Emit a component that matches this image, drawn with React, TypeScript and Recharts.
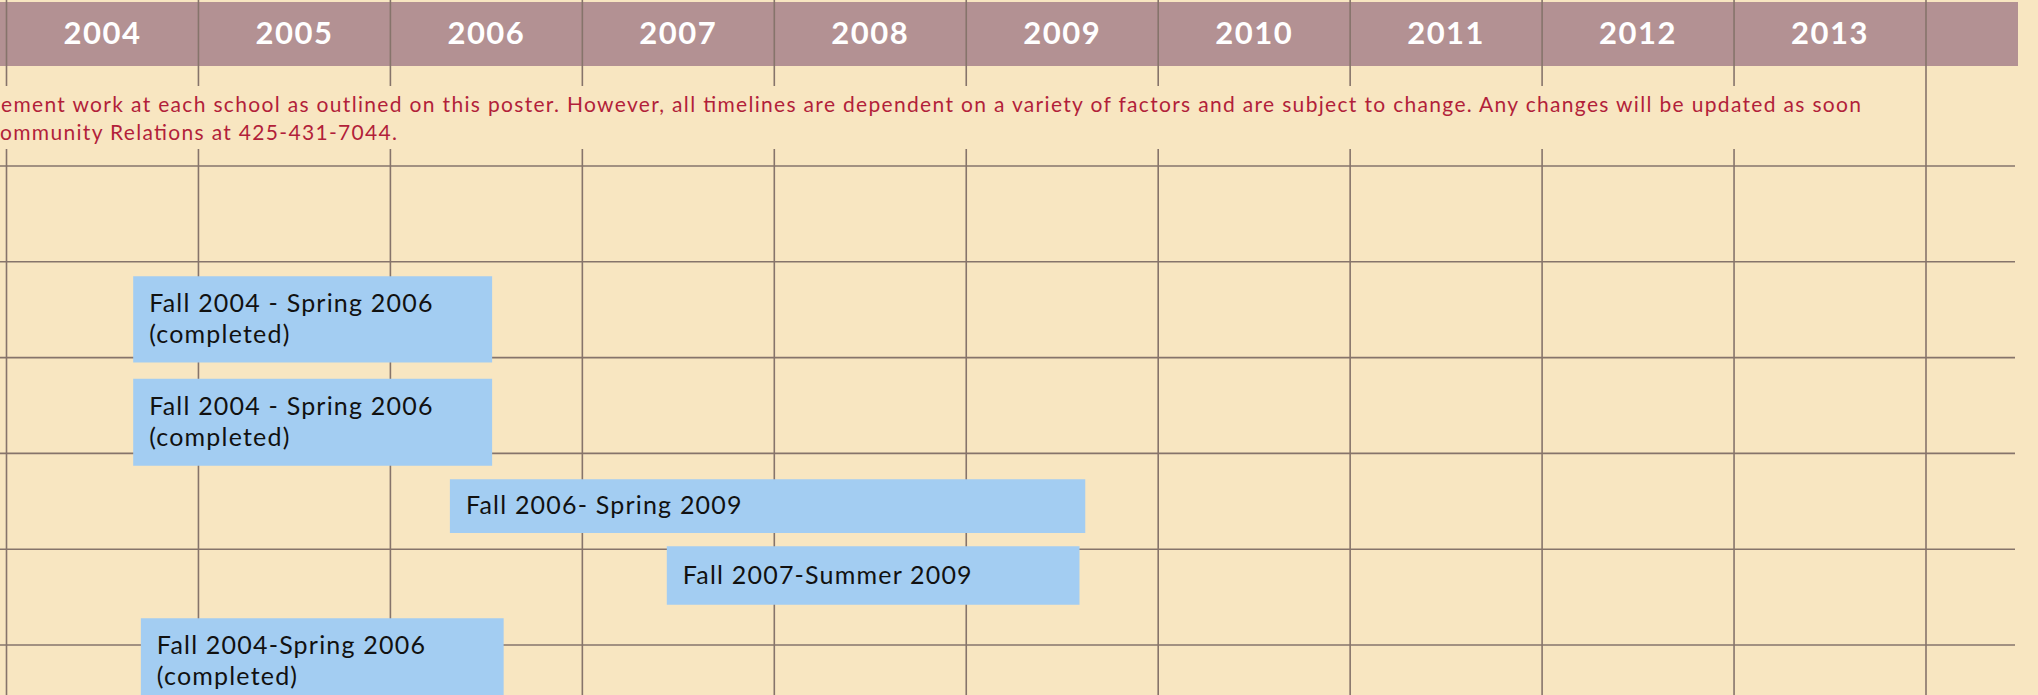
import React from 'react';
import { ScatterChart, XAxis, YAxis, CartesianGrid, ReferenceArea } from 'recharts';

// column boundaries (years) and school row lines
const yearTicks = [2004, 2005, 2006, 2007, 2008, 2009, 2010, 2011, 2012, 2013, 2014];
const yearLabels = [2004, 2005, 2006, 2007, 2008, 2009, 2010, 2011, 2012, 2013];
const rowTicks = [1, 2, 3, 4, 5, 6];

// project bars: years as fractions, vertical extent in row units
const taskLabels = [
  ['Fall 2004 - Spring 2006', '(completed)'],
  ['Fall 2004 - Spring 2006', '(completed)'],
  ['Fall 2006- Spring 2009'],
  ['Fall 2007-Summer 2009'],
  ['Fall 2004-Spring 2006', '(completed)'],
];
const taskStart = [2004.66, 2004.66, 2006.31, 2007.44, 2004.7];
const taskEnd = [2006.53, 2006.53, 2009.62, 2009.59, 2006.59];
const taskTop = [2.15, 3.22, 4.27, 4.97, 5.72];
const taskBottom = [3.05, 4.13, 4.83, 5.58, 6.63];

const noteLines = [
  'ement work at each school as outlined on this poster. However, all timelines are dependent on a variety of factors and are subject to change. Any changes will be updated as soon',
  'ommunity Relations at 425-431-7044.',
];

const W = 2038;
const H = 695;
const PLOT_W = 2015;
const COL = 191.95;
const ROW = 95.8;
const xDomain = [2004 - 6.5 / COL, 2004 + (PLOT_W - 6.5) / COL];
const yDomain = [1 - 166 / ROW, 1 + (H - 166) / ROW];

const BG = '#F8E6C1';
const GRID = '#86746B';
const FONT = 'Lato, "Open Sans", sans-serif';

const YearTick = (props: any) => (
  <text x={props.x} y={44} textAnchor="middle" fill="#fff" fontFamily={FONT} fontWeight={700} fontSize={31} letterSpacing={1.5}>
    {Math.floor(props.payload.value)}
  </text>
);

const TaskText = ({ viewBox, lines }: any) => {
  const lh = 31;
  const first = viewBox.y + viewBox.height / 2 - ((lines.length - 1) * lh) / 2 + 8;
  return (
    <text fill="#111" fontFamily={FONT} fontSize={25} letterSpacing={1.2}>
      {lines.map((l: string, i: number) => (
        <tspan key={i} x={viewBox.x + 16} y={first + i * lh}>{l}</tspan>
      ))}
    </text>
  );
};

export default function App() {
  return (
    <div style={{ position: 'absolute', left: 0, top: 0, width: W, height: H, background: BG, overflow: 'hidden' }}>
      <div style={{ position: 'absolute', left: 0, top: 2, width: 2018, height: 64, background: '#B39193' }} />
      <div style={{ position: 'absolute', left: 0, top: 0 }}>
        <ScatterChart width={W} height={H} margin={{ top: 0, right: W - PLOT_W, bottom: 0, left: 0 }}>
          <XAxis xAxisId="x" dataKey="year" type="number" domain={xDomain} ticks={yearTicks} interval={0} allowDataOverflow hide />
          <XAxis xAxisId="yr" dataKey="year" type="number" orientation="top" mirror domain={xDomain} ticks={yearLabels.map((y) => y + 0.5)}
            allowDataOverflow axisLine={false} tickLine={false} interval={0} tick={<YearTick />} />
          <YAxis yAxisId="y" dataKey="row" type="number" domain={yDomain} ticks={rowTicks} interval={0} reversed allowDataOverflow hide />
          <CartesianGrid xAxisId="x" yAxisId="y" syncWithTicks stroke={GRID} strokeWidth={1.6} strokeOpacity={1} />
          {taskLabels.map((lines, i) => (
            <ReferenceArea key={i} xAxisId="x" yAxisId="y" x1={taskStart[i]} x2={taskEnd[i]} y1={taskTop[i]} y2={taskBottom[i]}
              fill="#A3CDF2" fillOpacity={1} stroke="none" ifOverflow="visible"
              label={{ content: (p: any) => <TaskText viewBox={p.viewBox} lines={lines} /> }} />
          ))}
        </ScatterChart>
      </div>
      <svg style={{ position: 'absolute', left: 0, top: 86 }} width={1921} height={63}>
        <rect width={1921} height={63} fill={BG} />
        <text x={1} y={26} fill="#B21F3A" fontFamily={FONT} fontSize={21} textLength={1860} lengthAdjust="spacing">{noteLines[0]}</text>
        <text x={0} y={54} fill="#B21F3A" fontFamily={FONT} fontSize={21} textLength={397} lengthAdjust="spacing">{noteLines[1]}</text>
      </svg>
    </div>
  );
}
